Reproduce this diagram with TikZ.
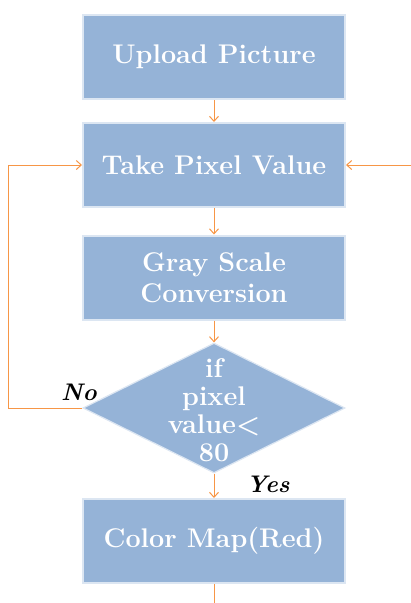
\documentclass[tikz,border=0pt]{standalone}
\usetikzlibrary{shapes.geometric,arrows.meta}
\definecolor{boxfill}{HTML}{95B3D7}
\definecolor{boxedge}{HTML}{DCE6F2}
\definecolor{flow}{HTML}{F79646}
\tikzset{
  stepbox/.style={rectangle, fill=boxfill, draw=boxedge, line width=2pt,
    minimum width=262pt, minimum height=84pt, inner sep=0pt,
    text=white, font=\fontsize{27}{31}\selectfont\bfseries, align=center},
  decbox/.style={diamond, fill=boxfill, draw=boxedge, line width=1.2pt,
    minimum width=262pt, minimum height=130pt, inner sep=0pt},
  dectext/.style={text=white, font=\fontsize{27}{28}\selectfont\bfseries, align=center},
  flowline/.style={draw=flow, line width=1pt},
  flowarrow/.style={flowline, -{Straight Barb[length=5pt,width=9pt]}},
  branch/.style={font=\fontsize{24}{27}\selectfont\bfseries\itshape}
}
\begin{document}
\begin{tikzpicture}[x=1pt, y=-1pt]
  \useasboundingbox (0,0) rectangle (411,603);

  % process steps
  \node[stepbox] (upload) at (214,57)    {Upload Picture};
  \node[stepbox] (take)   at (214,165)   {Take Pixel Value};
  \node[stepbox] (gray)   at (214,277.5) {Gray Scale\\Conversion};
  \node[decbox]  (dec)    at (214,408)   {};
  \node[dectext]          at (214,410)   {if\\pixel\\value<\\80};
  \node[stepbox] (cmap)   at (214,541)   {Color Map(Red)};

  % loose ends of the flow
  \coordinate (loopcorner) at (8,408);
  \coordinate (loopup)     at (8,165);
  \coordinate (rightin)    at (411,165);
  \coordinate (bottomout)  at (214,603);

  % connectors
  \draw[flowarrow] (upload.south) -- (take.north);
  \draw[flowarrow] (take.south) -- (gray.north);
  \draw[flowarrow] (gray.south) -- (dec.north);
  \draw[flowarrow] (dec.south) -- (cmap.north);
  \draw[flowarrow] (dec.west) -- (loopcorner) -- (loopup) -- (take.west);
  \draw[flowarrow] (rightin) -- (take.east);
  \draw[flowline] (cmap.south) -- (bottomout);

  % branch labels
  \node[branch] (nolab)  at (79,392)  {No};
  \node[branch] (yeslab) at (268,484) {Yes};
\end{tikzpicture}
\end{document}
